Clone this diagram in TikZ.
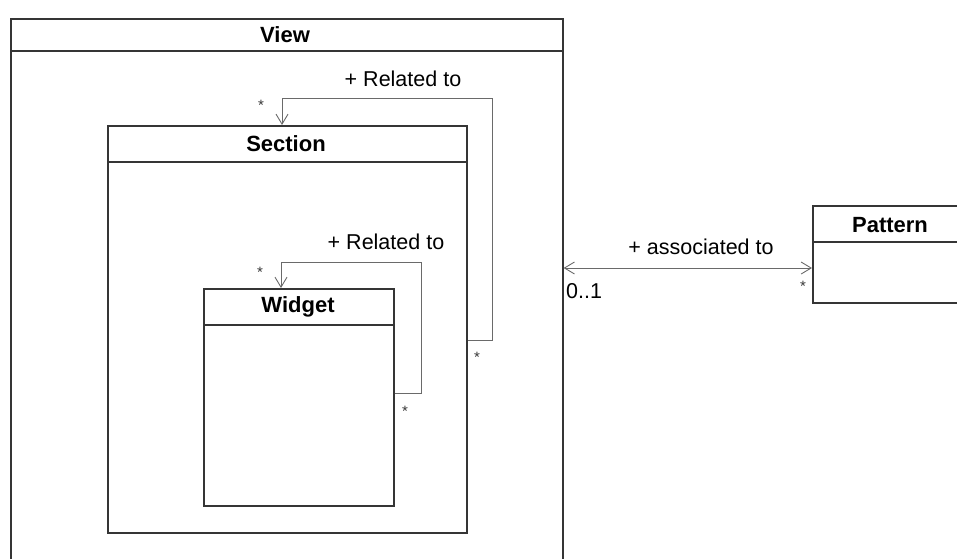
\documentclass[tikz,border=0pt]{standalone}
\usepackage{fontspec}
\setmainfont{Liberation Sans}
\usetikzlibrary{arrows.meta,calc}
\definecolor{boxc}{HTML}{353535}
\definecolor{linec}{HTML}{6A6A6A}
\definecolor{shadc}{HTML}{B8B8B8}
\begin{document}
\begin{tikzpicture}[x=1pt,y=-1pt,
  umlbox/.style={draw=boxc,line width=1.6pt,anchor=north west,inner sep=0pt,fill=white},
  shadowbox/.style={fill=shadc,anchor=north west,inner sep=0pt},
  title/.style={font=\bfseries\fontsize{22}{24}\selectfont,inner sep=0pt},
  lbl/.style={font=\fontsize{21.5}{24}\selectfont,inner sep=0pt},
  mult/.style={font=\fontsize{15}{16}\selectfont,text=boxc,inner sep=0pt},
  conn/.style={draw=linec,line width=1pt},
  tip/.style={-{Straight Barb[length=10pt,width=12pt,line width=0.9pt]}}
]
\useasboundingbox (0,0) rectangle (957,558);
\clip (0,0) rectangle (957,558);
% View
\node[umlbox,minimum width=552pt,minimum height=600pt] (view) at (10,18) {};
\draw[boxc,line width=1.6pt] (10,51) -- (562,51);
\node[title] (viewt) at (285,35) {View};
% Section
\node[shadowbox,minimum width=359pt,minimum height=407pt] at (109,127) {};
\node[umlbox,minimum width=359pt,minimum height=407pt] (sec) at (107,125) {};
\draw[boxc,line width=1.6pt] (107,162) -- (466,162);
\node[title] (sect) at (286,144) {Section};
% Widget
\node[shadowbox,minimum width=190pt,minimum height=217pt] at (205,290) {};
\node[umlbox,minimum width=190pt,minimum height=217pt] (wid) at (203,288) {};
\draw[boxc,line width=1.6pt] (203,325) -- (393,325);
\node[title] (widt) at (298,307) {Widget};
% Pattern
\node[shadowbox,minimum width=158pt,minimum height=97pt] at (814,207) {};
\node[umlbox,minimum width=158pt,minimum height=97pt] (pat) at (812,205) {};
\draw[boxc,line width=1.6pt] (812,242) -- (970,242);
\node[title] (patt) at (890,225) {Pattern};
% Section self association
\coordinate (sa) at (492,98);
\draw[conn,tip] (sec.east |- 0,340) -| (sa) -| (sec.north -| 282,0);
\node[lbl] (secl) at (403,79) {+ Related to};
\node[mult] (secm1) at (261,105) {*};
\node[mult] (secm2) at (477,357) {*};
% Widget self association
\coordinate (wa) at (421,262);
\draw[conn,tip] (wid.east |- 0,393) -| (wa) -| (wid.north -| 281,0);
\node[lbl] (widl) at (386,242) {+ Related to};
\node[mult] (widm1) at (260,272) {*};
\node[mult] (widm2) at (405,411) {*};
% View - Pattern association
\draw[conn,{Straight Barb[length=10pt,width=12pt,line width=0.9pt]}-{Straight Barb[length=10pt,width=12pt,line width=0.9pt]}] (view.east |- 0,268) -- (pat.west |- 0,268);
\node[lbl] (asl) at (701,247) {+ associated to};
\node[lbl,anchor=west] (m01) at (566,291) {0..1};
\node[mult] (pm) at (803,286) {*};
\end{tikzpicture}
\end{document}
